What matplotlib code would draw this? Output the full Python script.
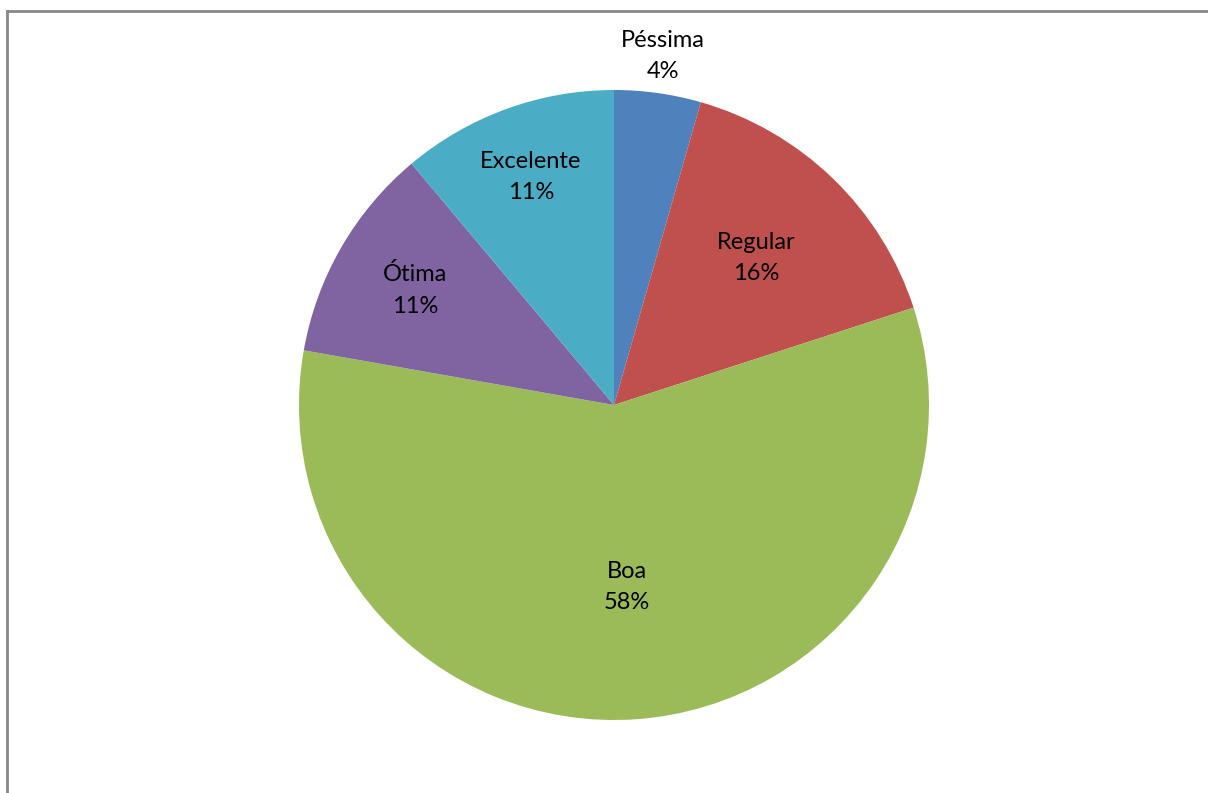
import matplotlib.pyplot as plt
import numpy as np
from matplotlib.lines import Line2D

categories = ['Péssima', 'Regular', 'Boa', 'Ótima', 'Excelente']
counts = [2, 7, 26, 5, 5]
colors = ['#4F81BD', '#C0504D', '#9BBB59', '#8064A2', '#4BACC6']
# how far from the centre each label sits, as a fraction of the radius
label_dist = [1.12, 0.65, 0.58, 0.73, 0.77]

W, H = 1208, 793
fig = plt.figure(figsize=(W / 100, H / 100), dpi=100)
fig.patch.set_facecolor('white')

# chart area frame (only top and left edges visible)
fig.add_artist(Line2D([7 / W, 1], [1 - 11 / H, 1 - 11 / H], color='#888888', lw=2.0))
fig.add_artist(Line2D([7 / W, 7 / W], [0, 1 - 11 / H], color='#888888', lw=2.0))

cx, cy, r = 614, 793 - 405, 315
ax = fig.add_axes([(cx - r) / W, (cy - r) / H, 2 * r / W, 2 * r / H])
wedges, _ = ax.pie(counts, colors=colors, startangle=90, counterclock=False,
                   radius=1, wedgeprops=dict(linewidth=0))
ax.set_xlim(-1, 1)
ax.set_ylim(-1, 1)
ax.set_aspect('equal')
ax.axis('off')

total = sum(counts)
for w, name, n, d in zip(wedges, categories, counts, label_dist):
    ang = np.deg2rad((w.theta1 + w.theta2) / 2)
    x, y = d * np.cos(ang), d * np.sin(ang)
    ax.text(x, y, f'{name}\n{round(100 * n / total)}%', ha='center', va='center',
            fontsize=17, family='Lato', linespacing=1.6, color='black', clip_on=False)

fig.savefig('out.png', dpi=100)
